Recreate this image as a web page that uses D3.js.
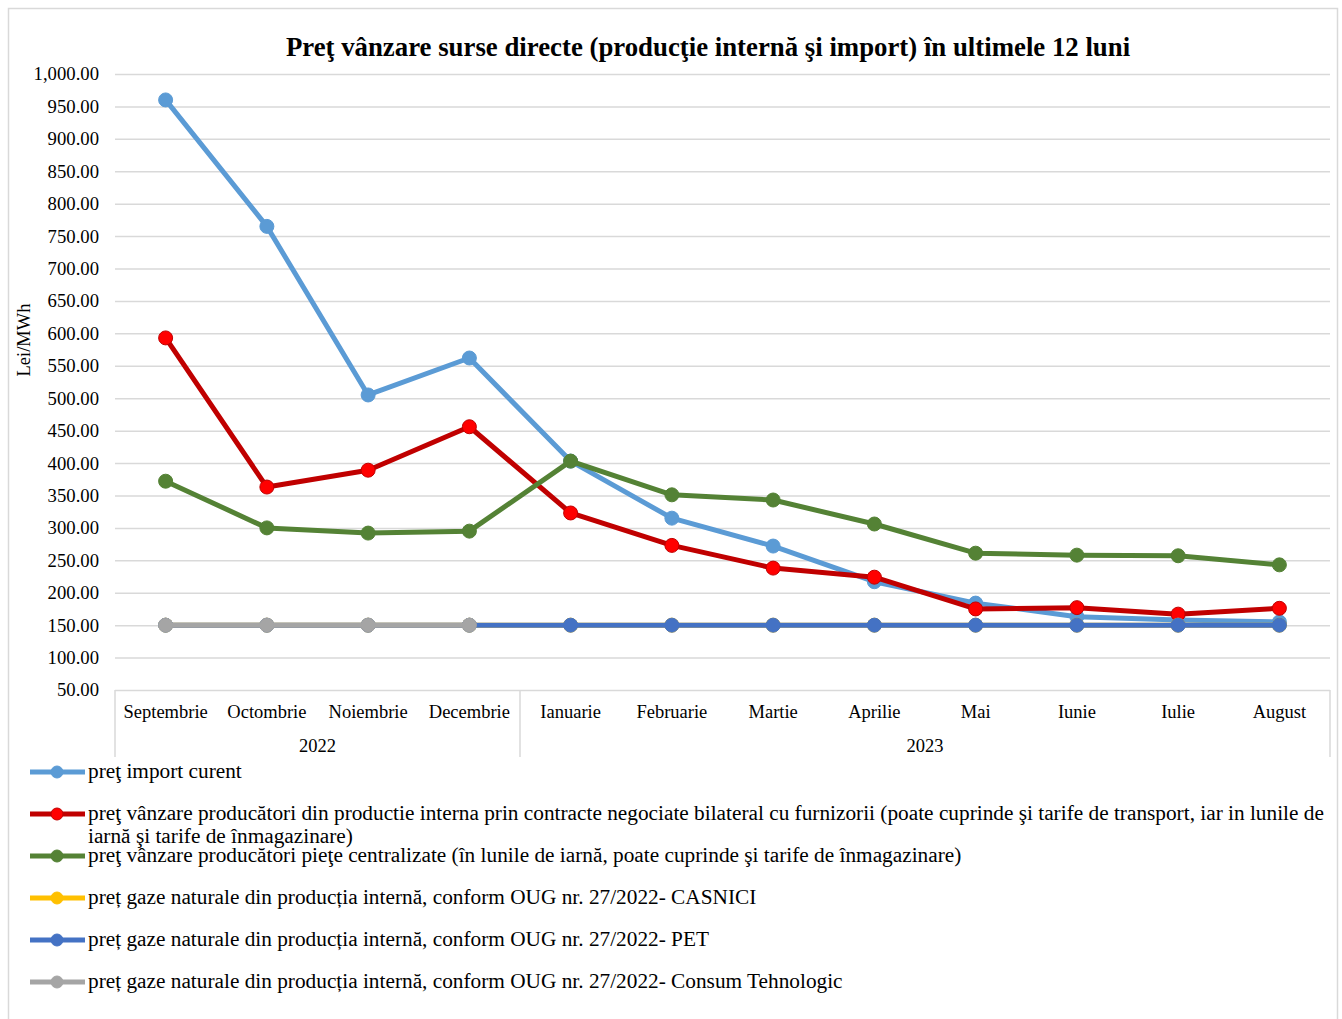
<!DOCTYPE html>
<html><head><meta charset="utf-8">
<script src="https://cdn.jsdelivr.net/npm/d3@7/dist/d3.min.js"></script>
<style>body{margin:0;background:#fff}svg{display:block}text{font-family:"Liberation Serif","Times New Roman",serif;fill:#000}</style>
</head><body><svg id="c" width="1342" height="1019"></svg>
<script>
const title = "Preţ vânzare surse directe (producţie internă şi import) în ultimele 12 luni";
const yTitle = "Lei/MWh";
const months = ["Septembrie","Octombrie","Noiembrie","Decembrie","Ianuarie","Februarie","Martie","Aprilie","Mai","Iunie","Iulie","August"];
const yearGroups = [{label:"2022", from:0, to:3},{label:"2023", from:4, to:11}];
const yTicks = [50,100,150,200,250,300,350,400,450,500,550,600,650,700,750,800,850,900,950,1000];

const importCurent   = [960,765,505,562,403,315,272,217,184,163,158,155];
const bilateral      = [593,363,389,456,323,273,238,224,175,177,167,176];
const centralizate   = [372,300,292,295,403,351,343,306,261,258,257,243];
const casnici        = [150,150,150,150,150,150,150,150,150,150,150,150];
const pet            = [150,150,150,150,150,150,150,150,150,150,150,150];
const consumTehn     = [150,150,150,150,null,null,null,null,null,null,null,null];

const series = [
  {name:"preţ import curent", values:importCurent, line:"#5B9BD5", fill:"#5B9BD5", stroke:"#5B9BD5"},
  {name:"preţ vânzare producători din productie interna prin contracte negociate bilateral cu furnizorii (poate cuprinde şi tarife de transport, iar in lunile de iarnă şi tarife de înmagazinare)", values:bilateral, line:"#C00000", fill:"#FF0000", stroke:"#C00000"},
  {name:"preţ vânzare producători pieţe centralizate (în lunile de iarnă, poate cuprinde şi tarife de înmagazinare)", values:centralizate, line:"#548235", fill:"#548235", stroke:"#548235"},
  {name:"preț gaze naturale din producția internă, conform OUG nr. 27/2022- CASNICI", values:casnici, line:"#FFC000", fill:"#FFC000", stroke:"#FFC000"},
  {name:"preț gaze naturale din producția internă, conform OUG nr. 27/2022- PET", values:pet, line:"#4472C4", fill:"#4472C4", stroke:"#4472C4"},
  {name:"preț gaze naturale din producția internă, conform OUG nr. 27/2022- Consum Tehnologic", values:consumTehn, line:"#A5A5A5", fill:"#A5A5A5", stroke:"#A5A5A5"}
];

const svg = d3.select("#c");
svg.append("rect").attr("x",8.5).attr("y",8.5).attr("width",1329).attr("height",1030)
  .attr("fill","#fff").attr("stroke","#D9D9D9").attr("stroke-width",1.5);

const L=115, R=1330, T=74, B=690;
const x = d3.scaleBand().domain(months).range([L,R]).padding(0);
const y = d3.scaleLinear().domain([50,1000]).range([B,T]);
const cx = m => x(m)+x.bandwidth()/2;

svg.append("text").attr("x",708).attr("y",56).attr("text-anchor","middle")
  .attr("font-weight","bold").attr("font-size",26.8).text(title);

// grid
const yAxis = d3.axisLeft(y).tickValues(yTicks).tickFormat(d3.format(",.2f")).tickSize(-(R-L)).tickPadding(16);
const gy = svg.append("g").attr("transform",`translate(${L},0)`).call(yAxis);
gy.select(".domain").remove();
gy.selectAll(".tick line").attr("stroke","#D9D9D9").attr("stroke-width",1.5);
gy.selectAll(".tick text").attr("font-size",18.7).attr("font-family","Liberation Serif");

svg.append("text").attr("transform",`translate(30,${340}) rotate(-90)`).attr("text-anchor","middle")
  .attr("font-size",18.5).text(yTitle);

// x axis multi-level
const gx = svg.append("g").attr("transform",`translate(0,${B})`)
  .call(d3.axisBottom(x).tickSize(0).tickPadding(0));
gx.select(".domain").remove();
gx.selectAll(".tick text").attr("font-size",18.5).attr("font-family","Liberation Serif").attr("dy",0).attr("y",28);
const sepX = [L, x(months[4]), R];
sepX.forEach(v=>svg.append("line").attr("x1",v).attr("x2",v).attr("y1",B).attr("y2",757)
  .attr("stroke","#D9D9D9").attr("stroke-width",1.5));
yearGroups.forEach(g=>{
  const a = x(months[g.from]), b = x(months[g.to])+x.bandwidth();
  svg.append("text").attr("x",(a+b)/2).attr("y",752).attr("text-anchor","middle").attr("font-size",18.5).text(g.label);
});

// lines
const line = d3.line().defined(d=>d.v!=null).x(d=>cx(d.m)).y(d=>y(d.v));
series.forEach(s=>{
  const pts = months.map((m,i)=>({m, v:s.values[i]}));
  svg.append("path").datum(pts).attr("d",line).attr("fill","none").attr("stroke",s.line)
    .attr("stroke-width",5).attr("stroke-linejoin","round");
  svg.append("g").selectAll("circle").data(pts.filter(d=>d.v!=null)).join("circle")
    .attr("cx",d=>cx(d.m)).attr("cy",d=>y(d.v)).attr("r",7)
    .attr("fill",s.fill).attr("stroke",s.stroke).attr("stroke-width",1);
});

// legend
const legY = [772,814,856,898,940,982];
series.forEach((s,i)=>{
  const yy = legY[i];
  const g = svg.append("g");
  g.append("line").attr("x1",30).attr("x2",85).attr("y1",yy).attr("y2",yy).attr("stroke",s.line).attr("stroke-width",5);
  g.append("circle").attr("cx",57).attr("cy",yy).attr("r",6).attr("fill",s.fill).attr("stroke",s.stroke);
  const t = g.append("text").attr("x",88).attr("y",yy+6).attr("font-size",21.3);
  const words = s.name.split(" ");
  let lineStr = "";
  let ts = t.append("tspan").attr("x",88).attr("dy",0);
  words.forEach(w=>{
    const test = lineStr ? lineStr+" "+w : w;
    ts.text(test);
    if (ts.node().getComputedTextLength() > 1245 && lineStr) {
      ts.text(lineStr);
      ts = t.append("tspan").attr("x",88).attr("dy",23).text(w);
      lineStr = w;
    } else lineStr = test;
  });
});
</script></body></html>
